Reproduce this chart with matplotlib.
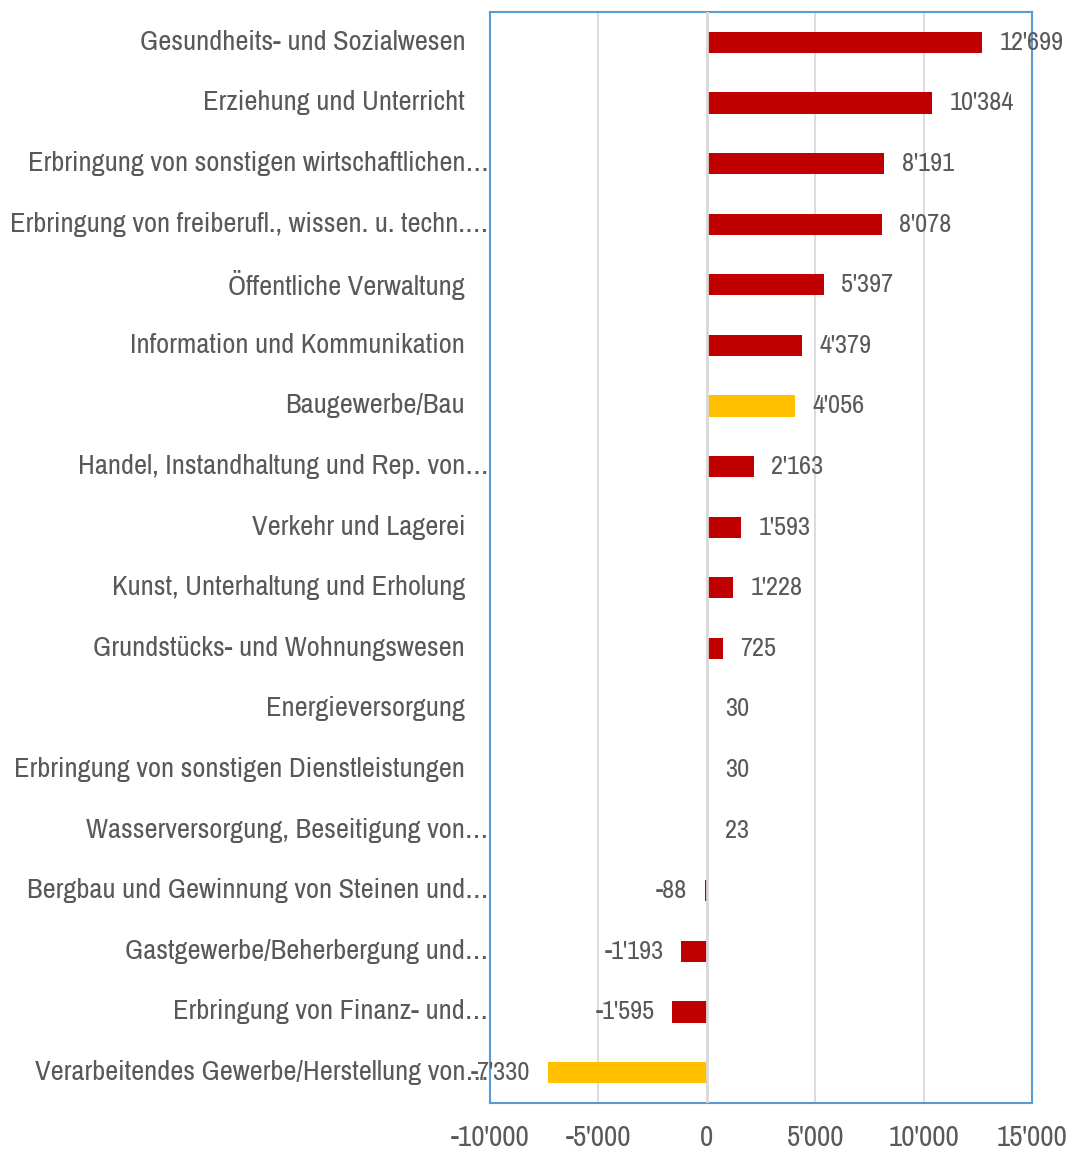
import numpy as np
import matplotlib.pyplot as plt
from matplotlib import font_manager

categories = [
    'Gesundheits- und Sozialwesen',
    'Erziehung und Unterricht',
    'Erbringung von sonstigen wirtschaftlichen…',
    'Erbringung von freiberufl., wissen. u. techn.…',
    'Öffentliche Verwaltung',
    'Information und Kommunikation',
    'Baugewerbe/Bau',
    'Handel, Instandhaltung und Rep. von…',
    'Verkehr und Lagerei',
    'Kunst, Unterhaltung und Erholung',
    'Grundstücks- und Wohnungswesen',
    'Energieversorgung',
    'Erbringung von sonstigen Dienstleistungen',
    'Wasserversorgung, Beseitigung von…',
    'Bergbau und Gewinnung von Steinen und…',
    'Gastgewerbe/Beherbergung und…',
    'Erbringung von Finanz- und…',
    'Verarbeitendes Gewerbe/Herstellung von…',
]
values = [12699, 10384, 8191, 8078, 5397, 4379, 4056, 2163, 1593, 1228,
          725, 30, 30, 23, -88, -1193, -1595, -7330]
highlight = ['Baugewerbe/Bau', 'Verarbeitendes Gewerbe/Herstellung von…']
xticks = [-10000, -5000, 0, 5000, 10000, 15000]

# look for a condensed face (the original uses Arial Narrow)
fonts = font_manager.fontManager.ttflist
narrow = [f.name for f in fonts
          if 'narrow' in f.name.lower() or 'condensed' in f.name.lower()]
cond_same = [f.name for f in fonts
             if f.stretch in ('condensed', 'semi-condensed', 'extra-condensed')]
if narrow:
    family, stretch = narrow[0], 'normal'
elif cond_same:
    family, stretch = cond_same[0], 'condensed'
else:
    family, stretch = 'Liberation Sans', 'normal'
plt.rcParams['font.family'] = [family, 'DejaVu Sans']
plt.rcParams['font.stretch'] = stretch

grey = '#595959'


def fmt(v):
    s = f'{abs(v):,}'.replace(',', "'")
    return ('-' if v < 0 else '') + s


fig = plt.figure(figsize=(10.7, 11.5), dpi=100)
ax = fig.add_axes([0.458, 0.041, 0.5065, 0.9485])

y = np.arange(len(categories))
colors = ['#FFC000' if c in highlight else '#C00000' for c in categories]
ax.barh(y, values, height=0.35, color=colors, zorder=3)

ax.set_xlim(-10000, 15000)
ax.set_ylim(len(categories) - 0.5, -0.5)
ax.set_xticks(xticks)
ax.set_xticklabels([fmt(t) for t in xticks], fontsize=21, color=grey)
ax.tick_params(axis='x', length=0, pad=15)
ax.set_yticks([])

ax.grid(axis='x', color='#D9D9D9', linewidth=1.3, zorder=0)
ax.axvline(0, color='#D9D9D9', linewidth=2, zorder=4)
for sp in ax.spines.values():
    sp.set_color('#5B9BD5')
    sp.set_linewidth(1.5)

# category labels, truncated ones run up to the axis edge
for i, c in enumerate(categories):
    xpos = -0.003 if c.endswith('…') else -0.046
    ax.text(xpos, i, c, transform=ax.get_yaxis_transform(), ha='right',
            va='center', fontsize=20.5, color=grey)

# value labels
for i, v in enumerate(values):
    off = 800 if v >= 0 else -800
    ax.text(v + off, i, fmt(v), ha='left' if v >= 0 else 'right',
            va='center', fontsize=19, color=grey, zorder=5)

fig.savefig('out.png', dpi=100)
